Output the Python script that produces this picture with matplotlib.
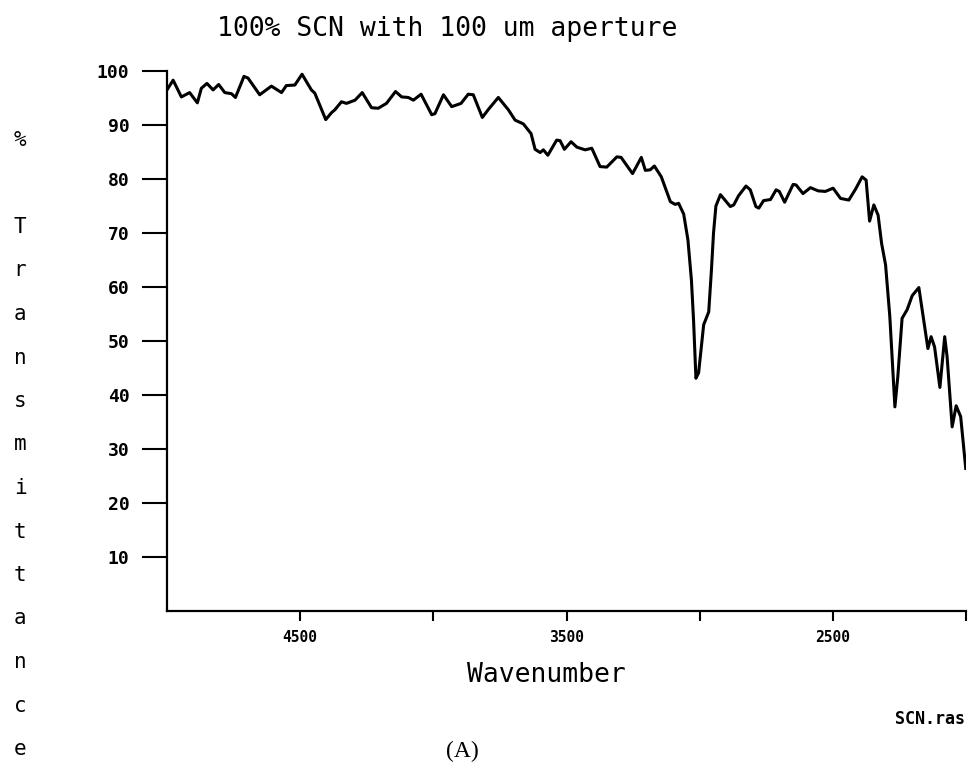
import numpy as np
from matplotlib import pyplot as plt

# IR spectrum
waveNumbers = [5000, 4977, 4946, 4915, 4886, 4871, 4850, 4827, 4806, 4783,
               4758, 4743, 4711, 4696, 4652, 4608, 4570, 4552, 4520, 4493,
               4458, 4445, 4404, 4382, 4370, 4345, 4326, 4294, 4267, 4232,
               4207, 4176, 4142, 4119, 4094, 4075, 4046, 4006, 3994, 3962,
               3931, 3896, 3869, 3850, 3816, 3793, 3756, 3718, 3693, 3662,
               3633, 3618, 3599, 3587, 3570, 3537, 3524, 3508, 3483, 3461,
               3430, 3405, 3374, 3349, 3311, 3295, 3252, 3219, 3204, 3186,
               3170, 3144, 3110, 3092, 3079, 3060, 3044, 3031, 3023, 3014,
               3004, 2985, 2966, 2956, 2948, 2939, 2922, 2885, 2872, 2854,
               2826, 2810, 2789, 2778, 2760, 2734, 2713, 2701, 2681, 2649,
               2638, 2612, 2584, 2555, 2528, 2499, 2471, 2440, 2415, 2390,
               2375, 2362, 2346, 2330, 2317, 2302, 2286, 2267, 2256, 2240,
               2221, 2202, 2177, 2143, 2131, 2118, 2098, 2080, 2071, 2052,
               2037, 2020, 2001]

transmittance = [96.5, 98.3, 95.2, 96.0, 94.1, 96.8, 97.7, 96.5, 97.5, 96.0,
                 95.8, 95.1, 99.0, 98.7, 95.6, 97.2, 96.0, 97.3, 97.4, 99.4,
                 96.5, 95.9, 91.0, 92.3, 92.8, 94.3, 94.0, 94.6, 96.0, 93.2,
                 93.1, 94.0, 96.2, 95.2, 95.1, 94.6, 95.7, 91.9, 92.1, 95.6,
                 93.4, 94.0, 95.7, 95.6, 91.4, 92.9, 95.1, 92.8, 90.9, 90.2,
                 88.4, 85.5, 84.9, 85.4, 84.4, 87.2, 87.1, 85.5, 86.9, 85.9,
                 85.4, 85.7, 82.3, 82.2, 84.1, 84.0, 81.0, 84.0, 81.6, 81.7,
                 82.4, 80.4, 75.8, 75.3, 75.5, 73.5, 68.7, 61.3, 53.9, 43.1,
                 44.1, 53.0, 55.4, 63.0, 70.0, 75.0, 77.1, 74.9, 75.2, 76.9,
                 78.7, 78.0, 74.9, 74.6, 76.0, 76.2, 78.0, 77.7, 75.7, 79.0,
                 78.9, 77.3, 78.4, 77.8, 77.7, 78.3, 76.4, 76.1, 78.1, 80.4,
                 79.8, 72.2, 75.2, 73.3, 68.1, 64.1, 54.5, 37.8, 43.4, 54.2,
                 55.8, 58.4, 59.9, 48.6, 50.8, 48.9, 41.4, 50.8, 47.1, 34.1,
                 38.0, 36.0, 26.4]

yTicks = [10, 20, 30, 40, 50, 60, 70, 80, 90, 100]
xTicks = [4500, 4000, 3500, 3000, 2500, 2000]
xTickLabels = ['4500', '', '3500', '', '2500', '']

titleStr = "100% SCN with 100 um aperture"
yLabelRows = ['%', '', 'T', 'r', 'a', 'n', 's', 'm', 'i', 't', 't',
              'a', 'n', 'c', 'e']
monoFont = 'DejaVu Sans Mono'

W, H = 968, 774
fig = plt.figure(figsize=(W / 100, H / 100), dpi=100)
ax = fig.add_axes([167 / W, 1 - 611 / H, (966 - 167) / W, (611 - 71) / H])

ax.plot(waveNumbers, transmittance, color='black', linewidth=2.2)

ax.set_xlim(5000, 2000)
ax.set_ylim(0, 100)

for side in ['top', 'right']:
    ax.spines[side].set_visible(False)
for side in ['left', 'bottom']:
    ax.spines[side].set_linewidth(1.6)

ax.set_yticks(yTicks)
ax.set_yticklabels([str(v) for v in yTicks], fontfamily=monoFont,
                   fontweight='bold', fontsize=13)
ax.tick_params(axis='y', direction='out', length=18, width=1.5, pad=9)

ax.set_xticks(xTicks)
ax.set_xticklabels(xTickLabels, fontfamily=monoFont, fontweight='bold',
                   fontsize=10.5)
ax.tick_params(axis='x', direction='out', length=7, width=1.5, pad=7)

# texts placed in pixel terms of the figure
fig.text(447 / W, 1 - 29 / H, titleStr, fontfamily=monoFont, fontsize=19,
         ha='center', va='center')
fig.text(546 / W, 1 - 675 / H, "Wavenumber", fontfamily=monoFont,
         fontsize=19, ha='center', va='center')
fig.text(965 / W, 1 - 719 / H, "SCN.ras", fontfamily=monoFont,
         fontweight='bold', fontsize=12, ha='right', va='center')
fig.text(462 / W, 1 - 751 / H, "(A)", fontfamily='Liberation Serif',
         fontsize=17, ha='center', va='center')

# vertical y label, one letter per row
lineStep = 43.5
for row, ch in enumerate(yLabelRows):
    if not ch:
        continue
    py = 140 + row * lineStep
    fig.text(20 / W, 1 - py / H, ch, fontfamily=monoFont, fontsize=15,
             ha='center', va='center')

fig.savefig("out.png", dpi=100)
